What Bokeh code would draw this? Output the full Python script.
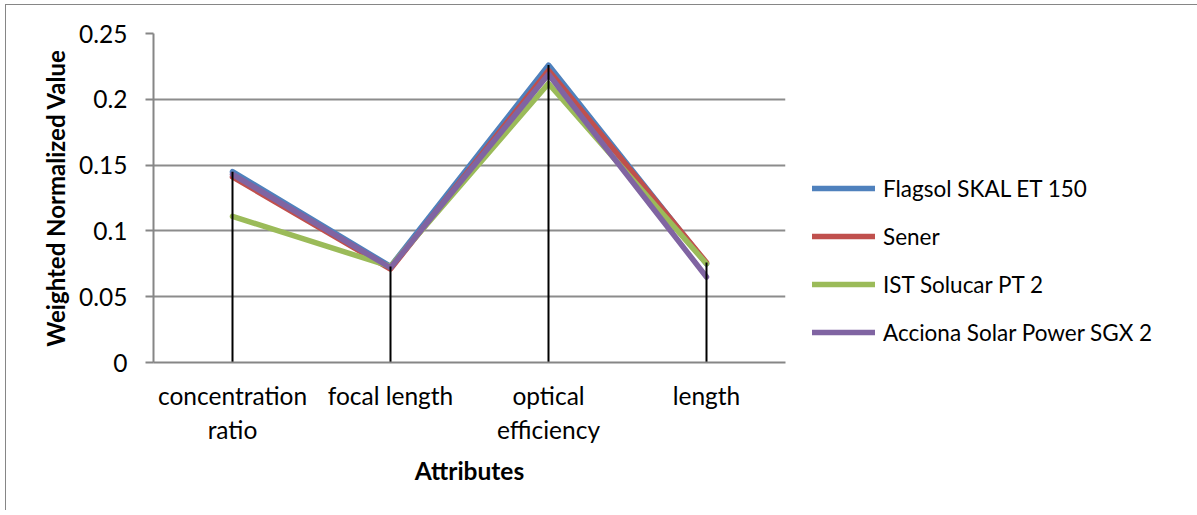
from bokeh.plotting import figure
from bokeh.models import FixedTicker, Legend, LegendItem, Range1d
from bokeh.embed import file_html
from bokeh.resources import INLINE

categories = ["concentration\nratio", "focal length", "optical\nefficiency", "length"]
series_names = ["Flagsol SKAL ET 150", "Sener", "IST Solucar PT 2", "Acciona Solar Power SGX 2"]
flagsol = [0.145, 0.073, 0.226, 0.075]
sener = [0.141, 0.071, 0.222, 0.076]
ist = [0.111, 0.073, 0.212, 0.075]
acciona = [0.143, 0.072, 0.219, 0.065]
y_ticks = [0, 0.05, 0.1, 0.15, 0.2, 0.25]
y_tick_labels = ["0", "0.05", "0.1", "0.15", "0.2", "0.25"]

colors = ["#4F81BD", "#C0504D", "#9BBB59", "#8064A2"]
FONT = "Lato"
FS = "24.5px"

p = figure(frame_width=632, frame_height=329, output_backend="svg", toolbar_location=None,
           x_range=Range1d(0, len(categories)), y_range=Range1d(0, 0.25),
           min_border_left=147, min_border_top=28,
           min_border_right=0, min_border_bottom=148)
p.margin = (4, 0, 0, 5)
p.styles = {"border-left": "1px solid #868686", "border-top": "1px solid #868686"}
p.outline_line_color = None
p.background_fill_color = "white"
p.border_fill_color = "white"

xs = [i + 0.5 for i in range(len(categories))]

# axes
p.xaxis.ticker = FixedTicker(ticks=xs)
p.xaxis.major_label_overrides = {x: c for x, c in zip(xs, categories)}
p.xaxis.major_tick_line_color = None
p.xaxis.minor_tick_line_color = None
p.xaxis.axis_line_color = "#868686"
p.xaxis.axis_line_width = 2
p.xaxis.major_label_text_font = FONT
p.xaxis.major_label_text_font_size = FS
p.xaxis.major_label_text_color = "black"
p.xaxis.major_label_standoff = 12
p.xaxis.axis_label = "Attributes"
p.xaxis.axis_label_text_font = FONT
p.xaxis.axis_label_text_font_size = FS
p.xaxis.axis_label_text_font_style = "bold"
p.xaxis.axis_label_text_color = "black"
p.xaxis.axis_label_standoff = 9

p.yaxis.ticker = FixedTicker(ticks=y_ticks)
p.yaxis.major_label_overrides = {t: l for t, l in zip(y_ticks, y_tick_labels)}
p.yaxis.major_tick_out = 8
p.yaxis.major_tick_in = 0
p.yaxis.major_tick_line_color = "#868686"
p.yaxis.major_tick_line_width = 2
p.yaxis.minor_tick_line_color = None
p.yaxis.axis_line_color = "#868686"
p.yaxis.axis_line_width = 2
p.yaxis.major_label_text_font = FONT
p.yaxis.major_label_text_font_size = FS
p.yaxis.major_label_text_color = "black"
p.yaxis.major_label_standoff = 18
p.yaxis.axis_label = "Weighted Normalized Value"
p.yaxis.axis_label_text_font = FONT
p.yaxis.axis_label_text_font_size = "24px"
p.yaxis.axis_label_text_font_style = "bold"
p.yaxis.axis_label_text_color = "black"
p.yaxis.axis_label_standoff = 6

p.xgrid.grid_line_color = None
p.ygrid.grid_line_color = "#8C8C8C"
p.ygrid.grid_line_width = 2
p.ygrid.ticker = FixedTicker(ticks=y_ticks)

renderers = []
for vals, col in zip([flagsol, sener, ist, acciona], colors):
    r = p.line(xs, vals, line_color=col, line_width=5.5, line_join="round", line_cap="round")
    renderers.append(r)

# drop lines from highest value to the axis
tops = [max(v) for v in zip(flagsol, sener, ist, acciona)]
p.segment(x0=xs, y0=[0] * len(xs), x1=xs, y1=tops, line_color="black", line_width=2)

legend = Legend(items=[LegendItem(label=n, renderers=[r]) for n, r in zip(series_names, renderers)],
                location=(27, 6), orientation="vertical",
                glyph_width=63, glyph_height=48, label_height=48, spacing=0,
                label_standoff=8, padding=0, margin=0,
                border_line_color=None, background_fill_alpha=0,
                label_text_font=FONT, label_text_font_size="22.5px", label_text_color="black")
p.add_layout(legend, "right")

open("out.html", "w").write(file_html(p, INLINE))
